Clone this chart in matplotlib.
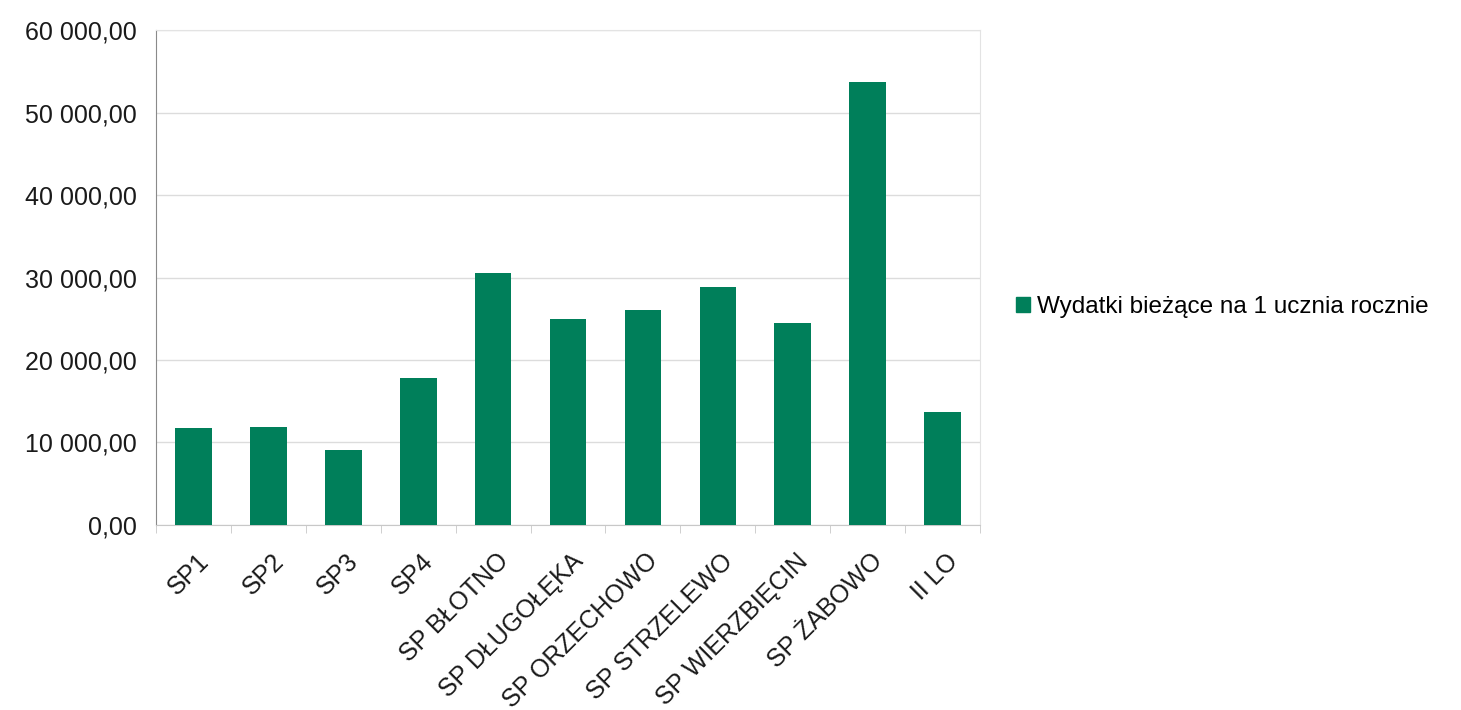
import matplotlib.pyplot as plt
import numpy as np
from matplotlib.ticker import FuncFormatter, FixedLocator
from matplotlib.patches import Patch
import matplotlib.transforms as mtransforms

plt.rcParams['font.family'] = ['Liberation Sans', 'DejaVu Sans']

# dane
szkoly = ['SP1', 'SP2', 'SP3', 'SP4', 'SP BŁOTNO', 'SP DŁUGOŁĘKA', 'SP ORZECHOWO',
          'SP STRZELEWO', 'SP WIERZBIĘCIN', 'SP ŻABOWO', 'II LO']
wydatki = [11700, 11900, 9100, 17800, 30600, 25000, 26100, 28800, 24500, 53700, 13700]
seria = 'Wydatki bieżące na 1 ucznia rocznie'
kolor = '#007F5A'

fig = plt.figure(figsize=(14.61, 7.10), dpi=100)
ax = fig.add_axes([0.1068, 0.2606, 0.564, 0.697])

x = np.arange(len(szkoly))
ax.bar(x, wydatki, width=0.49, color=kolor, zorder=3)

ax.set_xlim(-0.5, len(szkoly) - 0.5)
ax.set_ylim(0, 60000)
ax.set_yticks(np.arange(0, 60001, 10000))


def fmt(v, pos):
    s = '{:,.2f}'.format(v)
    return s.replace(',', ' ').replace('.', ',')


ax.yaxis.set_major_formatter(FuncFormatter(fmt))
ax.tick_params(axis='y', length=0, pad=14, labelsize=18, labelcolor='#1a1a1a')
ax.grid(axis='y', color='#dcdcdc', linewidth=1, zorder=0)

# znaczniki osi X pomiędzy kategoriami (jak w Excelu)
ax.set_xticks(x)
ax.set_xticklabels([])
ax.tick_params(axis='x', which='major', length=0)
ax.xaxis.set_minor_locator(FixedLocator(np.arange(-0.5, len(szkoly), 1.0)))
ax.tick_params(axis='x', which='minor', length=6, color='#c8c8c8', direction='out')

offset = mtransforms.ScaledTranslation(0.03, -0.24, fig.dpi_scale_trans)
for xi, nazwa in zip(x, szkoly):
    ax.text(xi, 0, nazwa, rotation=45, ha='right', va='top', rotation_mode='anchor',
            fontsize=18, color='#1a1a1a',
            transform=ax.get_xaxis_transform() + offset)

for side in ['top', 'right']:
    ax.spines[side].set_color('#e3e3e3')
ax.spines['left'].set_color('#8a8a8a')
ax.spines['bottom'].set_color('#c8c8c8')

fig.legend(handles=[Patch(color=kolor, label=seria)], loc='center left',
           bbox_to_anchor=(0.687, 0.5676), frameon=False, fontsize=17.5,
           borderpad=0, handlelength=0.6, handleheight=0.6, handletextpad=0.25)

fig.savefig('out.png', dpi=100, facecolor='white')
